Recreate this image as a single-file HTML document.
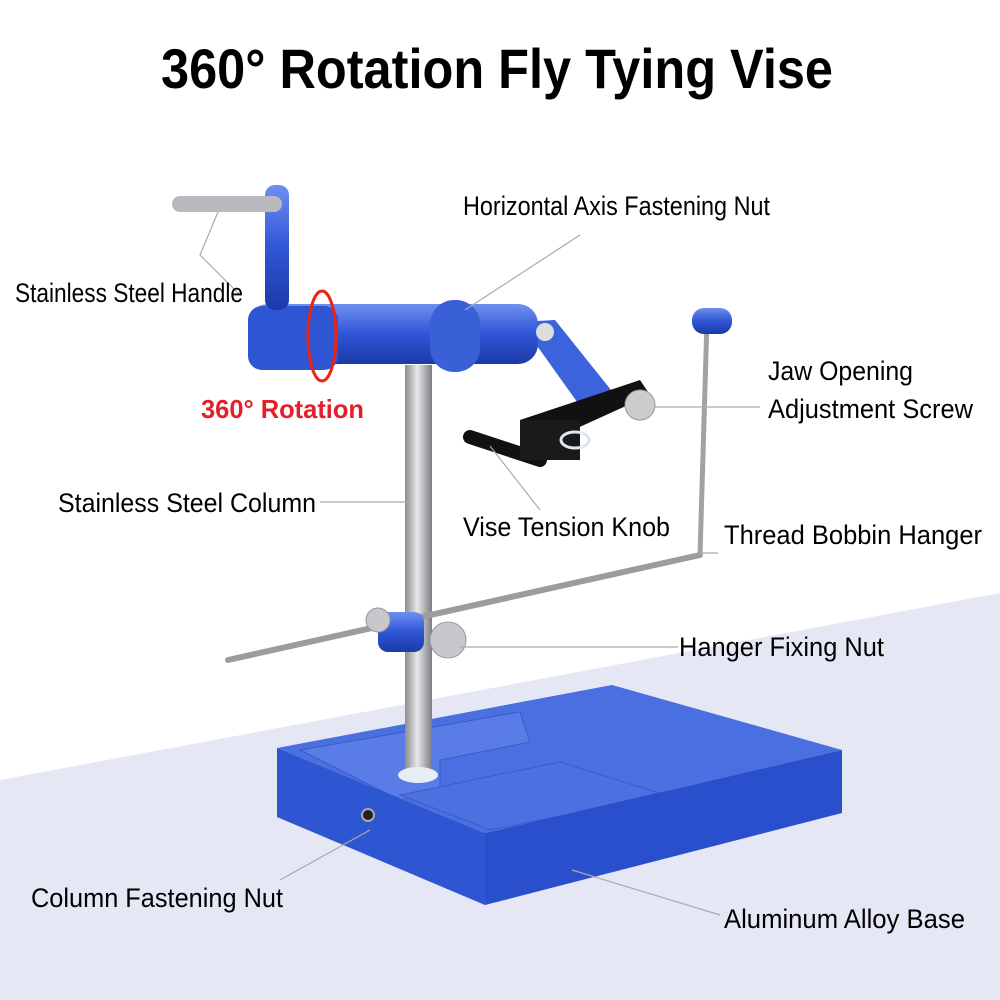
<!DOCTYPE html>
<html><head><meta charset="utf-8"><style>
body{margin:0;width:1000px;height:1000px;overflow:hidden;background:#fff}
svg{display:block}
text{font-family:"Liberation Sans",sans-serif}
</style></head><body>
<svg width="1000" height="1000" viewBox="0 0 1000 1000">
<defs>
<linearGradient id="steel" x1="0" x2="1"><stop offset="0" stop-color="#8a8c90"/><stop offset=".45" stop-color="#e8e8ea"/><stop offset="1" stop-color="#7a7c80"/></linearGradient>
<linearGradient id="blue" x1="0" y1="0" x2="0" y2="1"><stop offset="0" stop-color="#6f8ff0"/><stop offset=".5" stop-color="#2f56d6"/><stop offset="1" stop-color="#1c3aa8"/></linearGradient>
</defs>
<polygon points="0,780 1000,593 1000,1000 0,1000" fill="#e5e7f5"/>
<text x="497" y="88" font-size="56" font-weight="bold" text-anchor="middle" fill="#000" textLength="672" lengthAdjust="spacingAndGlyphs">360° Rotation Fly Tying Vise</text>
<!-- base -->
<polygon points="277,748 612,685 842,750 485,833" fill="#4a6fe0"/>
<polygon points="300,750 520,712 530,742 440,760 440,790 400,800" fill="#5a7ce6" stroke="#3a5cc8"/>
<polygon points="400,795 560,762 665,795 490,830" fill="#4d70e0" stroke="#3a5cc8"/>
<polygon points="277,748 485,833 485,905 277,817" fill="#2e55d2"/>
<polygon points="485,833 842,750 842,813 485,905" fill="#2a4fcc"/>
<circle cx="368" cy="815" r="6" fill="#222" stroke="#aaa" stroke-width="2"/>
<!-- column -->
<rect x="405" y="365" width="27" height="410" fill="url(#steel)"/>
<ellipse cx="418" cy="775" rx="20" ry="8" fill="#e8eef6"/>
<!-- hanger -->
<line x1="228" y1="660" x2="700" y2="555" stroke="#9a9ca0" stroke-width="6" stroke-linecap="round"/>
<line x1="700" y1="555" x2="707" y2="320" stroke="#a0a2a6" stroke-width="5"/>
<rect x="692" y="308" width="40" height="26" rx="12" fill="url(#blue)"/>
<rect x="378" y="612" width="46" height="40" rx="10" fill="url(#blue)"/>
<circle cx="448" cy="640" r="18" fill="#c8c8cc" stroke="#999"/>
<circle cx="378" cy="620" r="12" fill="#c8c8cc" stroke="#999"/>
<!-- arm -->
<polygon points="520,322 555,320 615,395 590,420" fill="#3c62dc"/>
<polygon points="520,420 640,380 650,395 540,445" fill="#111"/>
<line x1="470" y1="437" x2="540" y2="460" stroke="#111" stroke-width="14" stroke-linecap="round"/>
<rect x="520" y="420" width="60" height="40" fill="#1a1a1a"/>
<circle cx="640" cy="405" r="15" fill="#ccc" stroke="#999"/>
<ellipse cx="575" cy="440" rx="14" ry="8" fill="none" stroke="#dfe7f4" stroke-width="3"/>
<!-- head -->
<rect x="248" y="304" width="290" height="60" rx="20" fill="url(#blue)"/>
<rect x="248" y="306" width="90" height="64" rx="14" fill="#2e55d2"/>
<rect x="430" y="300" width="50" height="72" rx="24" fill="#3a60d8"/>
<circle cx="545" cy="332" r="9" fill="#ddd"/>
<rect x="265" y="185" width="24" height="125" rx="10" fill="url(#blue)"/>
<rect x="172" y="196" width="110" height="16" rx="8" fill="#b8babe"/>
<ellipse cx="322" cy="336" rx="14" ry="45" fill="none" stroke="#e21" stroke-width="3"/>
<!-- leader lines -->
<g stroke="#aaa" stroke-width="1.2" fill="none">
<polyline points="240,295 200,255 218,212"/>
<line x1="465" y1="310" x2="580" y2="235"/>
<line x1="655" y1="407" x2="760" y2="407"/>
<line x1="490" y1="446" x2="540" y2="510"/>
<line x1="700" y1="553" x2="718" y2="553"/>
<line x1="320" y1="502" x2="410" y2="502"/>
<line x1="460" y1="647" x2="678" y2="647"/>
<line x1="370" y1="830" x2="280" y2="880"/>
<line x1="572" y1="870" x2="720" y2="915"/>
</g>
<g font-size="27" fill="#000" lengthAdjust="spacingAndGlyphs">
<text x="15" y="302" textLength="228" lengthAdjust="spacingAndGlyphs">Stainless Steel Handle</text>
<text x="463" y="215" textLength="307" lengthAdjust="spacingAndGlyphs">Horizontal Axis Fastening Nut</text>
<text x="768" y="380" textLength="145" lengthAdjust="spacingAndGlyphs">Jaw Opening</text>
<text x="768" y="418" textLength="205" lengthAdjust="spacingAndGlyphs">Adjustment Screw</text>
<text x="58" y="512" textLength="258" lengthAdjust="spacingAndGlyphs">Stainless Steel Column</text>
<text x="463" y="536" textLength="207" lengthAdjust="spacingAndGlyphs">Vise Tension Knob</text>
<text x="724" y="544" textLength="258" lengthAdjust="spacingAndGlyphs">Thread Bobbin Hanger</text>
<text x="679" y="656" textLength="205" lengthAdjust="spacingAndGlyphs">Hanger Fixing Nut</text>
<text x="31" y="907" textLength="252" lengthAdjust="spacingAndGlyphs">Column Fastening Nut</text>
<text x="724" y="928" textLength="241" lengthAdjust="spacingAndGlyphs">Aluminum Alloy Base</text>
</g>
<text x="201" y="418" font-size="26" font-weight="bold" fill="#e3202a" textLength="163" lengthAdjust="spacingAndGlyphs">360° Rotation</text>
</svg>
</body></html>
